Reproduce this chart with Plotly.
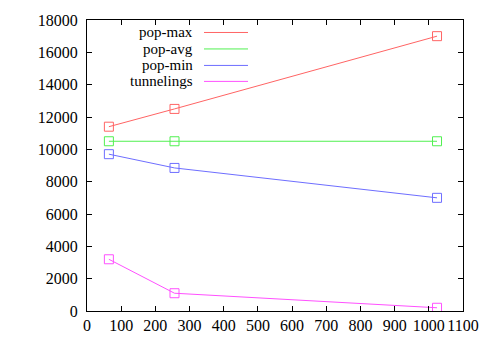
import plotly.graph_objects as go

x_vals = [64, 256, 1024]
pop_max = [11400, 12500, 17000]
pop_avg = [10500, 10500, 10500]
pop_min = [9700, 8850, 7000]
tunnelings = [3200, 1100, 200]

series_names = ["pop-max", "pop-avg", "pop-min", "tunnelings"]
series_vals = [pop_max, pop_avg, pop_min, tunnelings]
colors = ["rgb(255,100,100)", "rgb(80,240,80)", "rgb(110,110,255)", "rgb(255,80,255)"]

x_ticks = list(range(0, 1101, 100))
y_ticks = list(range(0, 18001, 2000))

font_family = "Liberation Serif, Times New Roman, serif"
FS = 16
LFS = 15

fig = go.Figure()
for name, vals, c in zip(series_names, series_vals, colors):
    fig.add_trace(go.Scatter(
        x=x_vals, y=vals, name=name, mode="lines+markers",
        line=dict(color=c, width=1),
        marker=dict(symbol="square-open", size=9, color=c, line=dict(width=1, color=c)),
        showlegend=False,
    ))

# page body has an 8px margin; work in page coordinates and subtract it
OFF = 8
L, R, T, B = 87 - OFF, 463 - OFF, 19.5 - OFF, 311 - OFF
W, H = 491 - 2 * OFF, 344 - 2 * OFF
pw, ph = R - L, B - T
legend_y = [32, 48.5, 65, 81]
for name, c, yy in zip(series_names, colors, legend_y):
    yp = (B - (yy - OFF)) / ph
    fig.add_annotation(
        xref="paper", yref="paper", x=(195 - OFF - L) / pw, y=yp,
        text=name, showarrow=False, xanchor="right", yanchor="middle",
        font=dict(family=font_family, size=LFS, color="black"),
    )
    fig.add_shape(
        type="line", xref="paper", yref="paper",
        x0=(204 - OFF - L) / pw, x1=(248 - OFF - L) / pw, y0=yp, y1=yp,
        line=dict(color=c, width=1),
    )

axis_common = dict(
    showgrid=False, zeroline=False, showline=True, linecolor="black", linewidth=1,
    mirror="allticks", ticks="inside", ticklen=5, tickcolor="black", tickwidth=1,
    tickfont=dict(family=font_family, size=FS, color="black"), automargin=False,
)
fig.update_xaxes(range=[0, 1100], tickmode="array", tickvals=x_ticks,
                 ticktext=[str(v) for v in x_ticks], tickangle=0, **axis_common)
fig.update_yaxes(range=[0, 18000], tickmode="array", tickvals=y_ticks,
                 ticktext=[str(v) for v in y_ticks], ticklabelstandoff=5, **axis_common)

fig.update_layout(
    width=W, height=H,
    margin=dict(l=L, r=W - R, t=T, b=H - B, pad=0, autoexpand=False),
    plot_bgcolor="white", paper_bgcolor="white",
    font=dict(family=font_family, size=FS, color="black"),
)

fig.write_html("out.html")
